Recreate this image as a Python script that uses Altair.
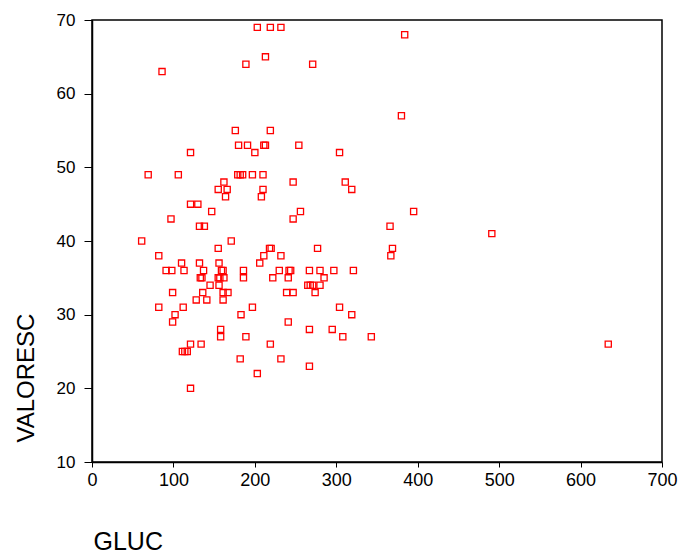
import altair as alt
import pandas as pd

# GLUC values, grouped by VALORESC row (same order as valoresc below)
gluc = [
    203, 219, 232,            # 69
    384,                      # 68
    213,                      # 65
    189, 271,                 # 64
    86,                       # 63
    380,                      # 57
    176, 219,                 # 55
    180, 191, 211, 213, 254,  # 53
    121, 200, 304,            # 52
    69, 106, 179, 182, 185, 197, 210,  # 49
    162, 247, 311,            # 48
    155, 166, 210, 319,       # 47
    164, 208,                 # 46
    121, 130,                 # 45
    147, 256, 395,            # 44
    97, 247,                  # 43
    132, 138, 366,            # 42
    491,                      # 41
    61, 171,                  # 40
    155, 218, 220, 277, 369,  # 39
    82, 211, 232, 367,        # 38
    110, 132, 156, 206,       # 37
    91, 98, 113, 137, 159, 161, 186, 230, 242, 244, 267, 280, 297, 321,  # 36
    133, 135, 155, 157, 162, 186, 222, 241, 285,  # 35
    145, 156, 265, 268, 271, 280,  # 34
    99, 136, 161, 167, 239, 247, 274,  # 33
    128, 141, 161,            # 32
    82, 112, 197, 304,        # 31
    102, 183, 319,            # 30
    99, 241,                  # 29
    158, 267, 295,            # 28
    158, 189, 308, 343,       # 27
    121, 134, 219, 634,       # 26
    111, 114, 117,            # 25
    182, 232,                 # 24
    267,                      # 23
    203,                      # 22
    121,                      # 20
]

valoresc = (
    [69] * 3 + [68] * 1 + [65] * 1 + [64] * 2 + [63] * 1 + [57] * 1 + [55] * 2
    + [53] * 5 + [52] * 3 + [49] * 7 + [48] * 3 + [47] * 4 + [46] * 2 + [45] * 2
    + [44] * 3 + [43] * 2 + [42] * 3 + [41] * 1 + [40] * 2 + [39] * 5 + [38] * 4
    + [37] * 4 + [36] * 14 + [35] * 9 + [34] * 6 + [33] * 7 + [32] * 3 + [31] * 4
    + [30] * 3 + [29] * 2 + [28] * 3 + [27] * 4 + [26] * 4 + [25] * 3 + [24] * 2
    + [23] * 1 + [22] * 1 + [20] * 1
)

x_ticks = [0, 100, 200, 300, 400, 500, 600, 700]
y_ticks = [10, 20, 30, 40, 50, 60, 70]

df = pd.DataFrame({"GLUC": gluc, "VALORESC": valoresc})

FONT = "Liberation Sans"

chart = (
    alt.Chart(df)
    .mark_square(filled=False, color="#ff0000", size=38, strokeWidth=1.3, opacity=1)
    .encode(
        x=alt.X(
            "GLUC:Q",
            scale=alt.Scale(domain=[0, 700], nice=False, zero=False),
            axis=alt.Axis(
                values=x_ticks,
                title="GLUC",
                titleFont=FONT,
                titleFontSize=25,
                titleFontWeight="normal",
                titleColor="black",
                titleAlign="left",
                titleAnchor="start",
                titleBaseline="alphabetic",
                titleX=1,
                titleY=87,
                labelFont=FONT,
                labelFontSize=18,
                labelColor="black",
                labelPadding=4,
                tickSize=5,
                tickColor="black",
                domainColor="black",
                domainWidth=1.5,
                grid=False,
                labelFlush=False,
            ),
        ),
        y=alt.Y(
            "VALORESC:Q",
            scale=alt.Scale(domain=[10, 70], nice=False, zero=False),
            axis=alt.Axis(
                values=y_ticks,
                title="VALORESC",
                titleFont=FONT,
                titleFontSize=24,
                titleFontWeight="normal",
                titleColor="black",
                titleAngle=270,
                titleAlign="left",
                titleBaseline="alphabetic",
                titleX=-59,
                titleY=422,
                labelFont=FONT,
                labelFontSize=17,
                labelColor="black",
                labelPadding=9,
                tickSize=8,
                tickColor="black",
                domainColor="black",
                domainWidth=1.5,
                grid=False,
                labelFlush=False,
            ),
        ),
    )
    .properties(
        width=570,
        height=442,
        autosize=alt.AutoSizeParams(type="none"),
        padding={"left": 92, "top": 20, "right": 20, "bottom": 93},
        background="white",
    )
    .configure_view(stroke="black", strokeWidth=1.5)
)

chart.save("out.html", embed_options={"renderer": "svg", "actions": False})
